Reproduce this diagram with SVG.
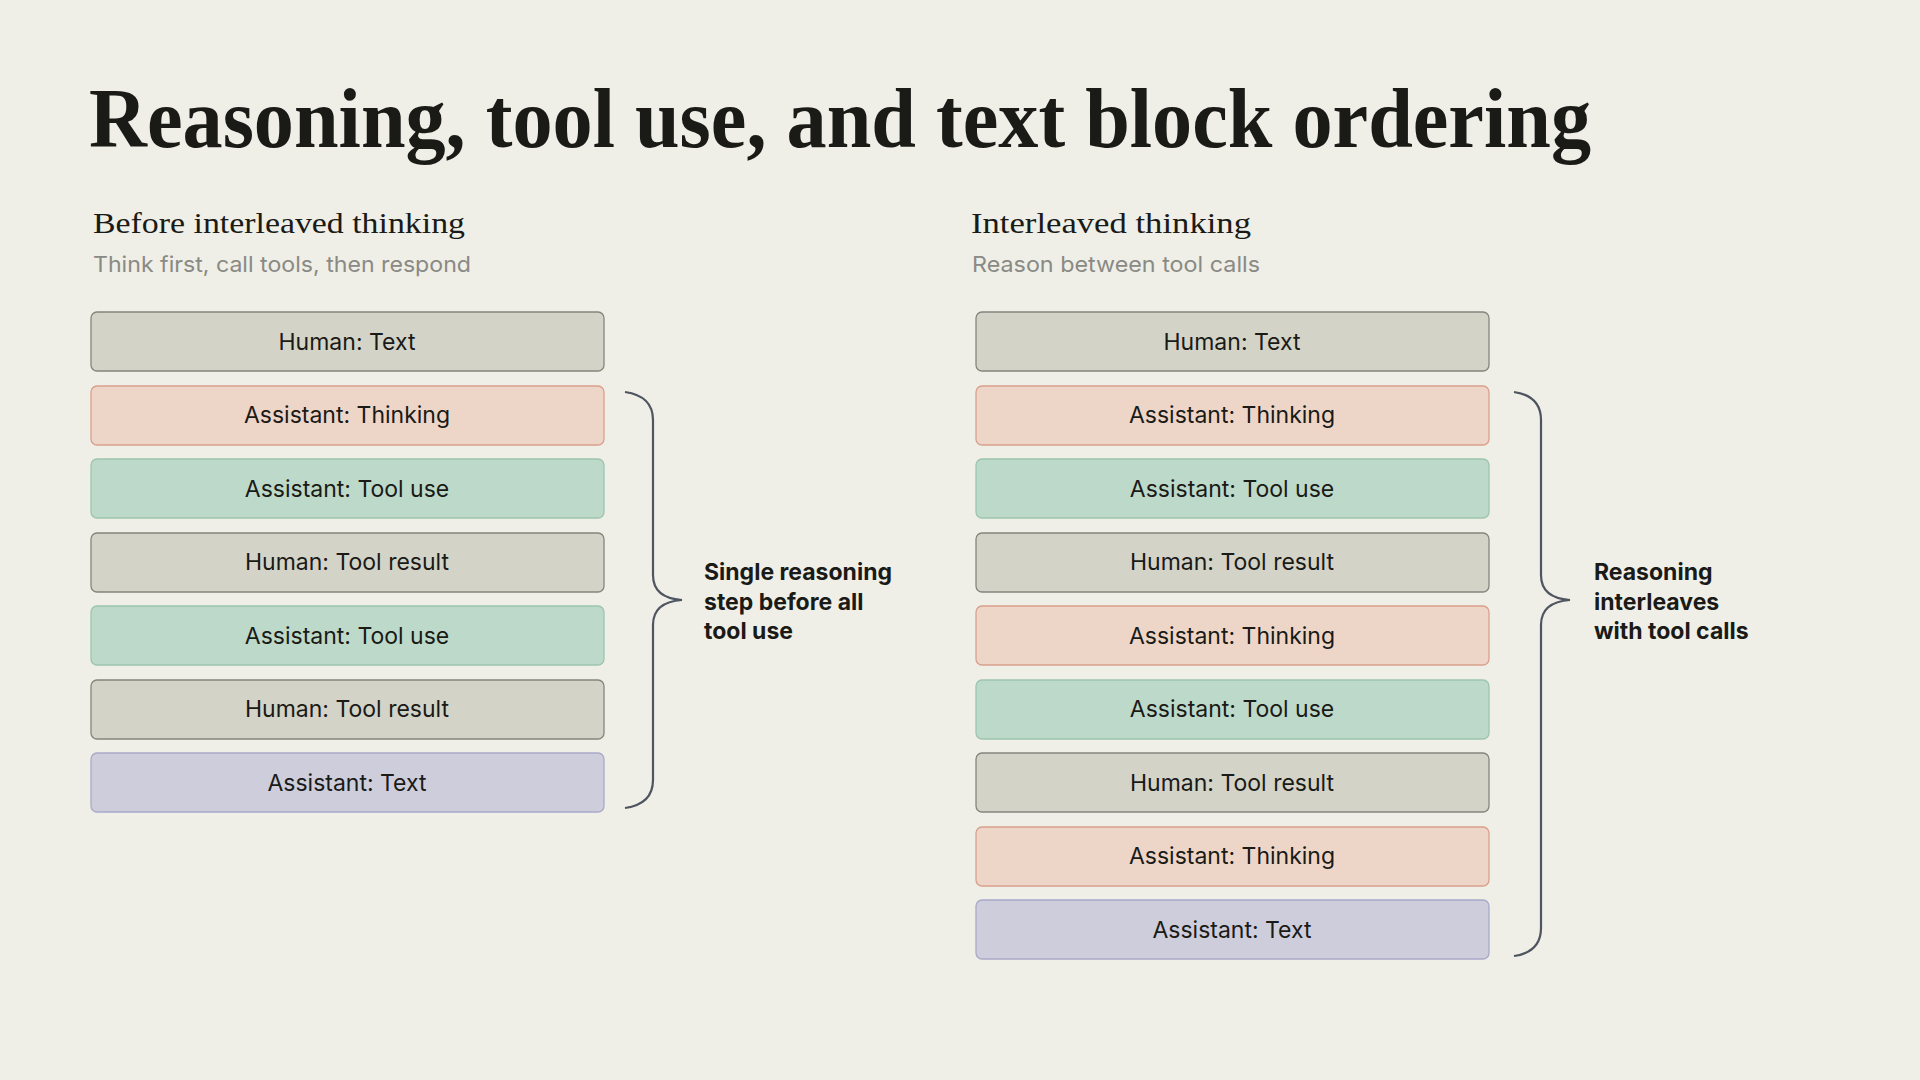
<svg xmlns="http://www.w3.org/2000/svg" width="1920" height="1080" viewBox="0 0 1920 1080">
<style>
.h{fill:#d3d3c8;stroke:#85857d;stroke-width:1.3}
.t{fill:#edd5c8;stroke:#d9a08c;stroke-width:1.3}
.u{fill:#bdd9c9;stroke:#9cc5ae;stroke-width:1.3}
.x{fill:#cdcddc;stroke:#a9a9c9;stroke-width:1.3}
.l{font-family:Inter,"Open Sans",sans-serif;font-size:23px;fill:#1a1a17;text-anchor:middle}
.b{font-family:Inter,"Open Sans",sans-serif;font-size:23px;font-weight:700;fill:#1a1a17}
.br{fill:none;stroke:#4f5560;stroke-width:2.2}
</style>
<rect width="1920" height="1080" fill="#efefe7"/>
<text x="89" y="147" font-family="Liberation Serif,serif" font-size="84" font-weight="700" fill="#1a1a17" textLength="1502" lengthAdjust="spacingAndGlyphs">Reasoning, tool use, and text block ordering</text>
<text x="93" y="233" font-family="Liberation Serif,serif" font-size="30" fill="#1a1a17" textLength="372" lengthAdjust="spacingAndGlyphs">Before interleaved thinking</text>
<text x="93" y="272" font-family="Inter,sans-serif" font-size="22" fill="#8a8a85" textLength="378" lengthAdjust="spacingAndGlyphs">Think first, call tools, then respond</text>
<text x="971" y="233" font-family="Liberation Serif,serif" font-size="30" fill="#1a1a17" textLength="280" lengthAdjust="spacingAndGlyphs">Interleaved thinking</text>
<text x="972" y="272" font-family="Inter,sans-serif" font-size="22" fill="#8a8a85" textLength="288" lengthAdjust="spacingAndGlyphs">Reason between tool calls</text>
<g id="left">
<g id="l1"><rect class="h" x="91" y="312" width="513" height="59" rx="6"/><text class="l" x="347" y="350">Human: Text</text></g>
<g id="l2"><rect class="t" x="91" y="386" width="513" height="59" rx="6"/><text class="l" x="347" y="423">Assistant: Thinking</text></g>
<g id="l3"><rect class="u" x="91" y="459" width="513" height="59" rx="6"/><text class="l" x="347" y="497">Assistant: Tool use</text></g>
<g id="l4"><rect class="h" x="91" y="533" width="513" height="59" rx="6"/><text class="l" x="347" y="570">Human: Tool result</text></g>
<g id="l5"><rect class="u" x="91" y="606" width="513" height="59" rx="6"/><text class="l" x="347" y="644">Assistant: Tool use</text></g>
<g id="l6"><rect class="h" x="91" y="680" width="513" height="59" rx="6"/><text class="l" x="347" y="717">Human: Tool result</text></g>
<g id="l7"><rect class="x" x="91" y="753" width="513" height="59" rx="6"/><text class="l" x="347" y="791">Assistant: Text</text></g>
</g>
<g id="right">
<g id="r1"><rect class="h" x="976" y="312" width="513" height="59" rx="6"/><text class="l" x="1232" y="350">Human: Text</text></g>
<g id="r2"><rect class="t" x="976" y="386" width="513" height="59" rx="6"/><text class="l" x="1232" y="423">Assistant: Thinking</text></g>
<g id="r3"><rect class="u" x="976" y="459" width="513" height="59" rx="6"/><text class="l" x="1232" y="497">Assistant: Tool use</text></g>
<g id="r4"><rect class="h" x="976" y="533" width="513" height="59" rx="6"/><text class="l" x="1232" y="570">Human: Tool result</text></g>
<g id="r5"><rect class="t" x="976" y="606" width="513" height="59" rx="6"/><text class="l" x="1232" y="644">Assistant: Thinking</text></g>
<g id="r6"><rect class="u" x="976" y="680" width="513" height="59" rx="6"/><text class="l" x="1232" y="717">Assistant: Tool use</text></g>
<g id="r7"><rect class="h" x="976" y="753" width="513" height="59" rx="6"/><text class="l" x="1232" y="791">Human: Tool result</text></g>
<g id="r8"><rect class="t" x="976" y="827" width="513" height="59" rx="6"/><text class="l" x="1232" y="864">Assistant: Thinking</text></g>
<g id="r9"><rect class="x" x="976" y="900" width="513" height="59" rx="6"/><text class="l" x="1232" y="938">Assistant: Text</text></g>
</g>
<g id="connectors">
<path class="br" d="M625 392 Q653 396 653 420 L653 575 Q653 598 682 600 Q653 602 653 625 L653 780 Q653 804 625 808"/>
<path class="br" d="M1514 392 Q1541 396 1541 420 L1541 575 Q1541 598 1570 600 Q1541 602 1541 625 L1541 928 Q1541 952 1514 956"/>
</g>
<g id="labels">
<text class="b" x="704" y="580">Single reasoning</text>
<text class="b" x="704" y="610">step before all</text>
<text class="b" x="704" y="639">tool use</text>
<text class="b" x="1594" y="580">Reasoning</text>
<text class="b" x="1594" y="610">interleaves</text>
<text class="b" x="1594" y="639">with tool calls</text>
</g>
</svg>
